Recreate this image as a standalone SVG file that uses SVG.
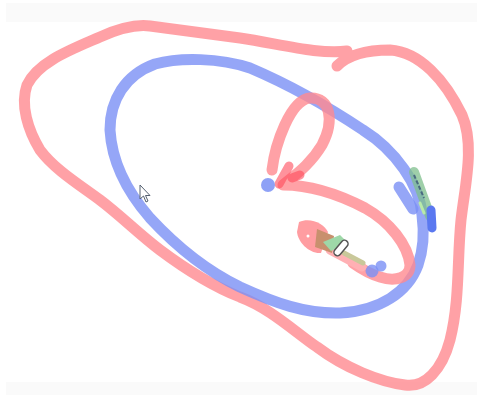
<svg xmlns="http://www.w3.org/2000/svg" width="477" height="395" viewBox="0 0 477 395">
<style>
.red{fill:none;stroke:#ff8a90;stroke-opacity:0.8;stroke-width:11;stroke-linecap:round;stroke-linejoin:round}
.blue{fill:none;stroke:#7a90f5;stroke-opacity:0.8;stroke-width:11;stroke-linecap:round;stroke-linejoin:round}
</style>
<rect width="477" height="395" fill="#ffffff"/>
<rect x="6" y="3" width="471" height="19" fill="#fafafa"/>
<rect x="6" y="382" width="471" height="13" fill="#fafafa"/>
<g id="outer-red">
<path class="red" d="M337,66 C345,58 360,50 390,50 C420,52 445,80 462,115 C475,145 465,185 461,220 C457,260 460,300 450,340 C442,370 425,388 405,385 C380,382 345,368 317,347 C295,332 270,308 240,297 C210,285 180,265 160,250 C140,235 120,215 100,200 C80,185 55,170 40,150 C28,130 20,105 27,85 C38,62 70,50 100,37 C120,28 135,24 150,26 C180,30 210,34 240,38 C280,44 320,55 347,51"/>
</g>
<g id="blue-ellipse">
<path class="blue" d="M422,215 C420,185 395,150 363,130 C330,108 290,85 250,68 C220,58 180,57 155,64 C125,75 110,100 110,130 C112,165 130,195 150,218 C175,245 205,270 240,287 C275,303 305,314 340,313 C380,311 408,292 418,265 C424,248 424,230 422,215"/>
<path class="blue" d="M399,187 L413,209"/>
</g>
<g id="inner-red">
<path class="red" d="M272,170 C275,145 290,100 310,98 C330,97 335,120 322,145 C310,165 295,175 283,185 C310,185 340,195 365,208 C390,222 408,245 410,265 C410,278 395,282 380,277 C370,274 360,268 353,263"/>
<path d="M289,166 L279,184 M292,178 L300,175" fill="none" stroke="#ff4a5a" stroke-opacity="0.6" stroke-width="9" stroke-linecap="round"/>
</g>
<g id="blue-dots">
<circle cx="268" cy="185" r="7" fill="#7a90f5" fill-opacity="0.85"/>
<circle cx="372" cy="271" r="6.5" fill="#7a90f5" fill-opacity="0.8"/>
<circle cx="381" cy="266" r="5.5" fill="#7a90f5" fill-opacity="0.8"/>
</g>
<g id="highlight">
<path d="M414,172 L430,216" fill="none" stroke="#7fbf8c" stroke-opacity="0.75" stroke-width="10" stroke-linecap="round"/>
<path d="M414,175 L424,198" fill="none" stroke="#4a6a80" stroke-width="2" stroke-dasharray="4 2"/>
<path d="M420,203 L424,213" fill="none" stroke="#b8eaa8" stroke-width="3" stroke-linecap="round"/>
<path d="M431,210 L432,228" fill="none" stroke="#5a78f0" stroke-width="9" stroke-linecap="round"/>
</g>
<g id="pencil">
<path d="M330,250 L362,267" fill="none" stroke="#ffb0b4" stroke-width="9" stroke-linecap="round"/>
<path d="M344,253 L363,263" fill="none" stroke="#c9c89a" stroke-width="5" stroke-linecap="round"/>
<path d="M299,222 C311,217 324,224 328,232 L321,253 C309,254 298,242 297,232 Z" fill="#ff9da1"/>
<circle cx="308" cy="236" r="1.5" fill="#ffffff"/>
<polygon points="317,229 334,236 332,253 315,247" fill="#c8906e"/>
<polygon points="323,242 340,235 348,243 331,251" fill="#9ed8a8"/>
<rect x="332" y="244.5" width="18" height="7" rx="3.5" transform="rotate(-50 341 248)" fill="#ffffff" stroke="#555555" stroke-width="1.5"/>
</g>
<g id="cursor">
<path d="M140,185 L140,199 L143.5,196 L146,202 L148,201 L145.5,195.5 L150,195.5 Z" fill="#ffffff" stroke="#556070" stroke-width="1"/>
</g>
</svg>
